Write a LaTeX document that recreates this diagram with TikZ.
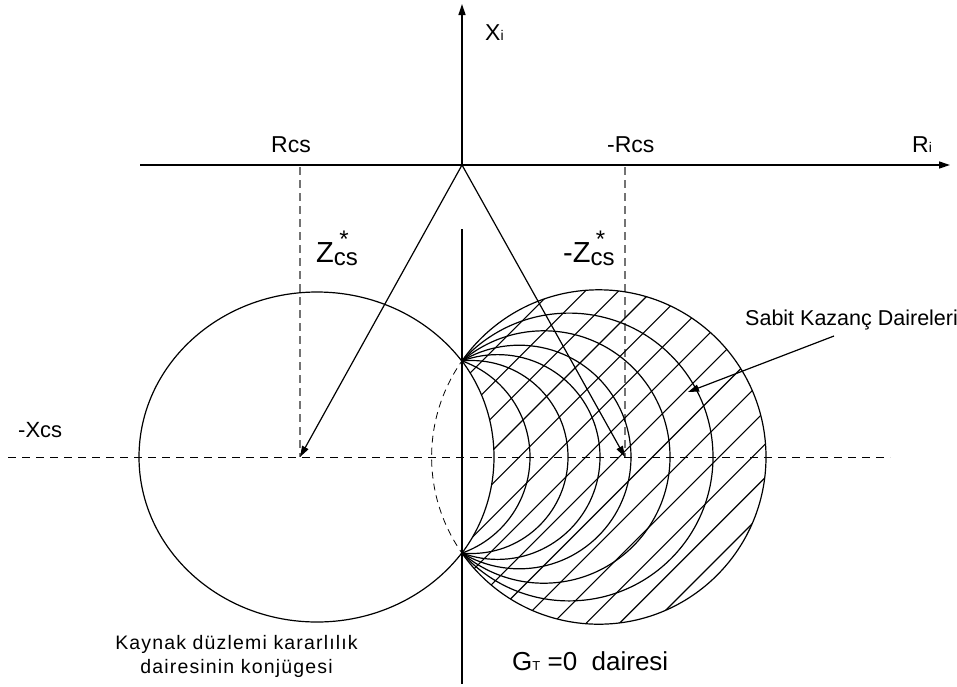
\documentclass[tikz,border=0pt]{standalone}
\usepackage{fontspec}
\setmainfont{Liberation Sans}
\usetikzlibrary{arrows.meta}
\newcommand\myfs[1]{\fontsize{#1}{#1}\selectfont}
\begin{document}
\begin{tikzpicture}[x=1pt,y=-1pt,
  axis/.style={line width=1.3pt,-{Triangle[length=11pt,width=7pt]}},
  ln/.style={line width=1.2pt},
  hatch/.style={line width=1.1pt},
  dsh/.style={line width=1pt,dash pattern=on 8pt off 6pt},
  gdsh/.style={line width=1.1pt,black!55,dash pattern=on 8pt off 5pt},
  thindsh/.style={line width=0.8pt,dash pattern=on 7pt off 5pt},
  arr/.style={line width=1.2pt,-{Triangle[length=11pt,width=7pt]}},
  lbl/.style={inner sep=0pt,anchor=base west}]
\useasboundingbox (0,0) rectangle (957,686);
% coordinates
\coordinate (O) at (462,165);
\coordinate (top) at (462,4);
\coordinate (axb) at (462,229);
\coordinate (bot) at (462,684);
\coordinate (xl) at (140,165);
\coordinate (xr) at (950,165);
\coordinate (CL) at (300,457);
\coordinate (CR) at (625,457);
\coordinate (RA) at (300,167);
\coordinate (MRA) at (625,167);
\coordinate (hl) at (8,457);
\coordinate (hr) at (890,457);
\coordinate (E) at (317,457);
\coordinate (G) at (598.8,457);
\coordinate (sabS) at (834,336);
\coordinate (sabE) at (688,392);
% dashed guide lines
\draw[gdsh] (RA) -- (CL);
\draw[gdsh] (MRA) -- (CR);
\draw[dsh] (hl) -- (hr);
% left part
\begin{scope}
  \clip (0,0) rectangle (462,686);
  \draw[ln] (E) ellipse [x radius=178pt, y radius=165pt];
  \draw[thindsh] (G) circle (167.2pt);
\end{scope}
% right part: constant gain circles
\begin{scope}
  \clip (462,0) rectangle (957,686);
  \foreach \cx/\r in {334/160, 428.2/101.8, 471.5/96.5, 497.6/102.4, 519.2/111.8, 543.8/126.2, 569.1/143.9, 598.8/167.2}
    \draw[ln] (\cx,457) circle (\r pt);
  \begin{scope}[even odd rule]
    \clip (598.8,457) circle (167.2pt) (334,457) circle (160pt);
    \foreach \k in {0,...,14} {
      \pgfmathsetmacro\cc{1276-33.3*\k}
      \draw[hatch] ({\cc-700},700) -- ({\cc+14},-14);
    }
  \end{scope}
\end{scope}
% axes
\draw[axis] (xl) -- (xr);
\draw[axis] (O) -- (top);
\draw[ln] (axb) -- (bot);
% arrows
\draw[arr] (O) -- (CL);
\draw[arr] (O) -- (CR);
\draw[arr] (sabS) -- (sabE);
% labels
\node[lbl] (xi) at (485,40) {\myfs{23}X{\myfs{14}i}};
\node[lbl] (rcs) at (271,152) {\myfs{23}Rcs};
\node[lbl] (mrcs) at (607,152) {\myfs{23}-Rcs};
\node[lbl] (ri) at (912,152) {\myfs{23}R{\myfs{14}i}};
\node[lbl] (mxcs) at (18,437) {\myfs{22}-Xcs};
\node[lbl] (zcs) at (316,262) {\myfs{29}Z\raisebox{-3pt}{\myfs{24}\makebox[0pt][l]{\makebox[20pt]{\raisebox{18pt}{*}}}cs}};
\node[lbl] (mzcs) at (563,262) {\myfs{29}-Z\raisebox{-3pt}{\myfs{24}\makebox[0pt][l]{\makebox[20pt]{\raisebox{18pt}{*}}}cs}};
\node[lbl] (sab) at (745,325) {\myfs{21.5}Sabit Kazanç Daireleri};
\node[inner sep=0pt,anchor=base] (kay1) at (236.5,649) {\myfs{19.5}\addfontfeatures{LetterSpace=6}Kaynak düzlemi kararlılık};
\node[inner sep=0pt,anchor=base] (kay2) at (236.5,673) {\myfs{19.5}\addfontfeatures{LetterSpace=6}dairesinin konjügesi};
\node[lbl] (gt) at (512,670) {\myfs{26}G{\myfs{13}T} =0\ \ dairesi};
\end{tikzpicture}
\end{document}
